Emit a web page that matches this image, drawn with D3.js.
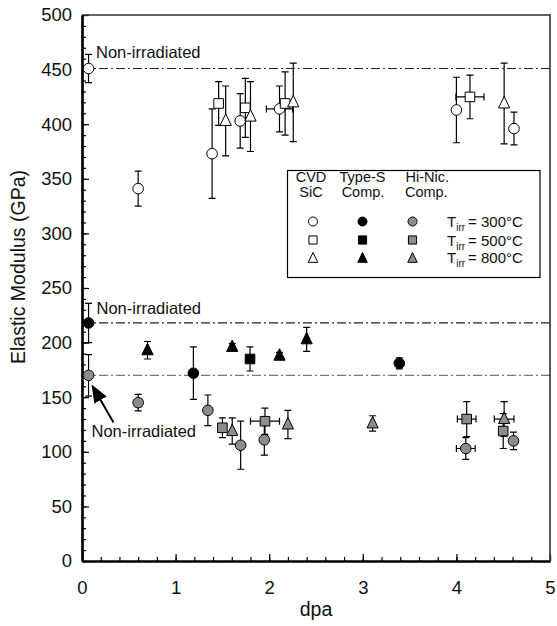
<!DOCTYPE html>
<html>
<head>
<meta charset="utf-8">
<script src="https://cdn.jsdelivr.net/npm/d3@7"></script>
<style>
  html, body { margin: 0; padding: 0; background: #fff; }
  svg { display: block; font-family: Arial, "Liberation Sans", sans-serif; }
</style>
</head>
<body>
<svg id="chart" width="557" height="626"></svg>
<script>
// data: [dpa, modulus (GPa), y error, x error]
const cvdCircle = [[0.07, 451, 13, 0], [0.60, 341, 16, 0], [1.39, 373, 41, 0], [1.69, 403, 25, 0],
  [2.11, 414, 21, 0.14], [4.00, 413, 30, 0], [4.615, 396, 15, 0]];
const cvdSquare = [[1.46, 419, 20, 0], [1.745, 415, 27, 0], [2.17, 419, 29, 0], [4.145, 425, 20, 0.15]];
const cvdTriangle = [[1.535, 403, 32, 0], [1.80, 407, 32, 0], [2.257, 420, 36, 0], [4.51, 419, 37, 0]];

const typeSCircle = [[0.07, 218, 18, 0], [1.19, 172, 24, 0], [3.39, 181, 5, 0]];
const typeSSquare = [[1.795, 185, 11, 0]];
const typeSTriangle = [[0.70, 193, 8, 0], [1.605, 196, 3, 0], [2.11, 188, 3, 0], [2.40, 203, 11, 0]];

const hiNicCircle = [[0.07, 170, 19, 0], [0.60, 145, 7.5, 0], [1.345, 138, 14, 0], [1.695, 106, 22, 0],
  [1.948, 111, 14, 0], [4.10, 103, 10, 0.1], [4.61, 110, 8, 0]];
const hiNicSquare = [[1.50, 122, 9, 0], [1.955, 128, 12, 0.155], [4.11, 130, 16, 0.1], [4.50, 119, 16, 0]];
const hiNicTriangle = [[1.605, 119, 12, 0], [2.20, 125, 13, 0], [3.105, 126, 7, 0], [4.51, 130, 16, 0.105]];

const refLines = [451, 218, 170];
const legendRows = ["300°C", "500°C", "800°C"];

const GRAY = "#8c8c8c";

const series = [
  { data: cvdCircle, shape: "circle", fill: "#fff" },
  { data: cvdSquare, shape: "square", fill: "#fff" },
  { data: cvdTriangle, shape: "triangle", fill: "#fff" },
  { data: typeSCircle, shape: "circle", fill: "#000" },
  { data: typeSSquare, shape: "square", fill: "#000" },
  { data: typeSTriangle, shape: "triangle", fill: "#000" },
  { data: hiNicCircle, shape: "circle", fill: GRAY },
  { data: hiNicSquare, shape: "square", fill: GRAY },
  { data: hiNicTriangle, shape: "triangle", fill: GRAY }
];

const svg = d3.select("#chart");
const x = d3.scaleLinear([0, 5], [82, 550]);
const y = d3.scaleLinear([0, 500], [561, 15]);

// marker paths centred on 0,0
const markerPath = (shape, s) => {
  if (shape === "circle") {
    const r = 5.3 * s;
    return `M${-r},0A${r},${r} 0 1,0 ${r},0A${r},${r} 0 1,0 ${-r},0Z`;
  }
  if (shape === "square") {
    const h = 4.8 * s;
    return `M${-h},${-h}H${h}V${h}H${-h}Z`;
  }
  const w = 5.6 * s, t = 7 * s, b = 4.5 * s;
  return `M0,${-t}L${w},${b}L${-w},${b}Z`;
};

// reference lines
svg.append("g").selectAll("line").data(refLines).join("line")
  .attr("x1", x(0)).attr("x2", x(5))
  .attr("y1", d => y(d)).attr("y2", d => y(d))
  .attr("stroke", (d, i) => i === 2 ? "#777" : "#222")
  .attr("stroke-width", 1.2)
  .attr("stroke-dasharray", "9,3,2,3");

// axes
const yMinor = d3.axisLeft(y).tickValues(d3.range(0, 501, 10)).tickSize(-4).tickSizeOuter(0).tickFormat("");
const yMajor = d3.axisLeft(y).tickValues(d3.range(0, 501, 50)).tickSize(-7).tickSizeOuter(0).tickPadding(10);
const xMinor = d3.axisBottom(x).tickValues(d3.range(0, 5.01, 0.2)).tickSize(-4).tickSizeOuter(0).tickFormat("");
const xMajor = d3.axisBottom(x).tickValues(d3.range(0, 6, 1)).tickSize(-7).tickSizeOuter(0)
  .tickPadding(20).tickFormat(d3.format("d"));

const gx = svg.append("g").attr("transform", `translate(0,${y(0)})`);
gx.append("g").call(xMinor);
gx.append("g").call(xMajor);
const gy = svg.append("g").attr("transform", `translate(${x(0)},0)`);
gy.append("g").call(yMinor);
gy.append("g").call(yMajor);

svg.selectAll(".tick line").attr("stroke", "#000").attr("stroke-width", 1.2);
svg.selectAll(".domain").attr("stroke", "#000").attr("stroke-width", 2.2);
svg.selectAll(".tick text").attr("font-size", 18.5).attr("fill", "#111")
  .attr("font-family", "Arial, 'Liberation Sans', sans-serif");

// top and right border
svg.append("path")
  .attr("d", `M${x(0)},${y(500)}H${x(5)}V${y(0)}`)
  .attr("fill", "none").attr("stroke", "#333").attr("stroke-width", 1.6);

// axis titles
svg.append("text").attr("x", (x(0) + x(5)) / 2).attr("y", 616)
  .attr("text-anchor", "middle").attr("font-size", 19.5).attr("fill", "#111").text("dpa");
svg.append("text").attr("transform", "translate(25,267) rotate(-90)")
  .attr("text-anchor", "middle").attr("font-size", 19.5).attr("fill", "#111").text("Elastic Modulus (GPa)");

// error bars then markers
const cap = 3.5;
const marks = svg.append("g");
series.forEach(s => {
  const g = marks.append("g");
  s.data.forEach(([dx, dy, ey, ex]) => {
    const px = x(dx), py = y(dy);
    let d = `M${px},${y(dy + ey)}V${y(dy - ey)}`
      + `M${px - cap},${y(dy + ey)}H${px + cap}M${px - cap},${y(dy - ey)}H${px + cap}`;
    if (ex > 0) {
      d += `M${x(dx - ex)},${py}H${x(dx + ex)}`
        + `M${x(dx - ex)},${py - cap}V${py + cap}M${x(dx + ex)},${py - cap}V${py + cap}`;
    }
    g.append("path").attr("d", d).attr("fill", "none").attr("stroke", "#000").attr("stroke-width", 1.2);
  });
});
series.forEach(s => {
  marks.append("g").selectAll("path").data(s.data).join("path")
    .attr("transform", d => `translate(${x(d[0])},${y(d[1])})`)
    .attr("d", markerPath(s.shape, 1))
    .attr("fill", s.fill).attr("stroke", "#000").attr("stroke-width", 1);
});

// annotations
const note = (tx, ty) => svg.append("text").attr("x", tx).attr("y", ty)
  .attr("font-size", 16.5).attr("fill", "#111").text("Non-irradiated");
note(96, 58);
note(96.5, 314);
note(91.5, 437);
svg.append("defs").append("marker").attr("id", "arrow")
  .attr("viewBox", "0 0 10 10").attr("refX", 9).attr("refY", 5)
  .attr("markerWidth", 9).attr("markerHeight", 9).attr("orient", "auto")
  .append("path").attr("d", "M0,1L10,5L0,9Z").attr("fill", "#000");
svg.append("line").attr("x1", 113.5).attr("y1", 422.5).attr("x2", 92.5).attr("y2", 386)
  .attr("stroke", "#000").attr("stroke-width", 2).attr("marker-end", "url(#arrow)");

// legend
const lg = svg.append("g");
lg.append("rect").attr("x", 287.5).attr("y", 170.5).attr("width", 252.5).attr("height", 107)
  .attr("fill", "#fff").attr("stroke", "#000").attr("stroke-width", 1.2);
const lt = (tx, ty, t, anchor) => lg.append("text").attr("x", tx).attr("y", ty)
  .attr("font-size", 14.5).attr("fill", "#111").attr("text-anchor", anchor || "middle").text(t);
lt(311, 181.5, "CVD");
lt(311, 196.5, "SiC");
lt(362.5, 181.5, "Type-S");
lt(363, 196.5, "Comp.");
lt(405.5, 181.5, "Hi-Nic.", "start");
lt(405, 196.5, "Comp.", "start");

const colX = [313, 362.5, 412.5];
const rowY = [221.5, 240, 257.5];
const fills = ["#fff", "#000", GRAY];
const shapes = ["circle", "square", "triangle"];
legendRows.forEach((t, r) => {
  colX.forEach((cx, c) => {
    lg.append("path").attr("transform", `translate(${cx},${rowY[r] + (r === 2 ? 1 : 0)})`)
      .attr("d", markerPath(shapes[r], 0.85))
      .attr("fill", fills[c]).attr("stroke", "#000").attr("stroke-width", 1);
  });
  const tt = lg.append("text").attr("x", 447).attr("y", rowY[r] + 5.5)
    .attr("font-size", 15).attr("fill", "#111");
  tt.append("tspan").text("T");
  tt.append("tspan").attr("dy", 4).attr("font-size", 10).text("irr");
  tt.append("tspan").attr("dy", -4).attr("dx", 3).text("= " + t);
});
</script>
</body>
</html>
